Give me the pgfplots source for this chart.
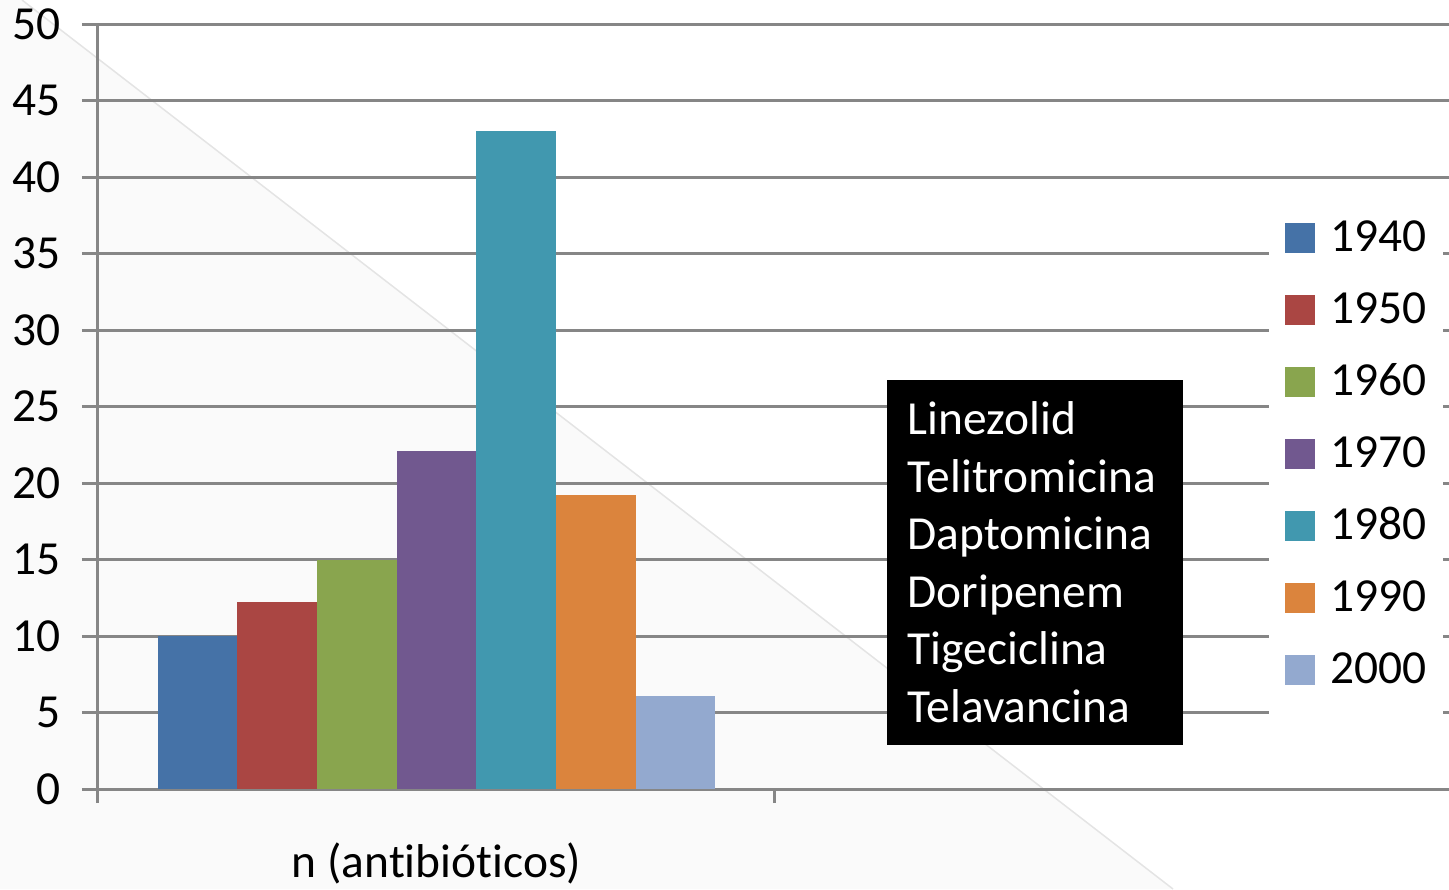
\documentclass[border=0pt]{standalone}
\usepackage{fontspec}
\setmainfont{Carlito}[Ligatures=NoCommon]
\usepackage{pgfplots}
\pgfplotsset{compat=1.18}
\definecolor{c1}{HTML}{4572A7}
\definecolor{c2}{HTML}{AA4643}
\definecolor{c3}{HTML}{89A54E}
\definecolor{c4}{HTML}{71588F}
\definecolor{c5}{HTML}{4198AF}
\definecolor{c6}{HTML}{DB843D}
\definecolor{c7}{HTML}{93A9CF}
\definecolor{gridgray}{HTML}{868686}
\definecolor{bgray}{HTML}{FAFAFA}
\definecolor{diag}{HTML}{E4E4E4}
\begin{document}
\begin{tikzpicture}[font=\fontsize{13.5}{16}\selectfont]
\useasboundingbox (-9.8mm,-10mm) rectangle (135.1mm,78.9mm);
\fill[bgray] (-9.8mm,78.9mm) -- (-7.6mm,78.9mm) -- (107.5mm,-10mm) -- (-9.8mm,-10mm) -- cycle;
\draw[diag, line width=0.15mm] (-7.6mm,78.9mm) -- (107.5mm,-10mm);
\begin{axis}[
  at={(0,0)}, anchor=south west,
  scale only axis, width=135.1mm, height=76.5mm,
  xmin=-0.5, xmax=1.4956, ymin=0, ymax=50,
  axis lines*=left,
  axis line style={gridgray, line width=0.3mm},
  ytick={0,5,...,50},
  ymajorgrids, grid style={gridgray, line width=0.3mm},
  tick align=outside,
  major tick length=1.6mm,
  minor tick length=1.4mm,
  xtick={0}, xticklabels={n (antibióticos)},
  minor xtick={-0.5,0.5,1.5},
  tick style={gridgray, line width=0.3mm},
  major x tick style={draw=none},
  xticklabel style={anchor=base, yshift=-7.2mm},
  yticklabel style={xshift=-0.9mm},
  /pgf/number format/assume math mode=true,
  ybar=0pt, bar width=7.97mm,
  legend style={at={(0.931,0.4375)}, anchor=center, fill=white, draw=none,
    inner xsep=1.6mm, inner ysep=1mm, row sep=0pt,
    nodes={inner sep=0pt, minimum height=7.2mm},
    /tikz/every odd column/.append style={column sep=1.6mm}},
  legend image code/.code={\path[#1] (0mm,-1.5mm) rectangle (3mm,1.5mm);},
  legend cell align=left,
]
\addplot[fill=c1, draw=none] coordinates {(0,10)};
\addlegendentry{1940}
\addplot[fill=c2, draw=none] coordinates {(0,12.2)};
\addlegendentry{1950}
\addplot[fill=c3, draw=none] coordinates {(0,15)};
\addlegendentry{1960}
\addplot[fill=c4, draw=none] coordinates {(0,22.1)};
\addlegendentry{1970}
\addplot[fill=c5, draw=none] coordinates {(0,43)};
\addlegendentry{1980}
\addplot[fill=c6, draw=none] coordinates {(0,19.2)};
\addlegendentry{1990}
\addplot[fill=c7, draw=none] coordinates {(0,6.1)};
\addlegendentry{2000}
\node[fill=black, text=white, anchor=north west, align=left, text width=25.4mm,
  minimum height=36.5mm, inner xsep=2.1mm, inner ysep=0pt,
  font=\fontsize{13.5}{16.4}\selectfont] at (axis cs:0.664,26.80)
  {Linezolid\\Telitromicina\\Daptomicina\\Doripenem\\Tigeciclina\\Telavancina};
\end{axis}
\end{tikzpicture}
\end{document}
